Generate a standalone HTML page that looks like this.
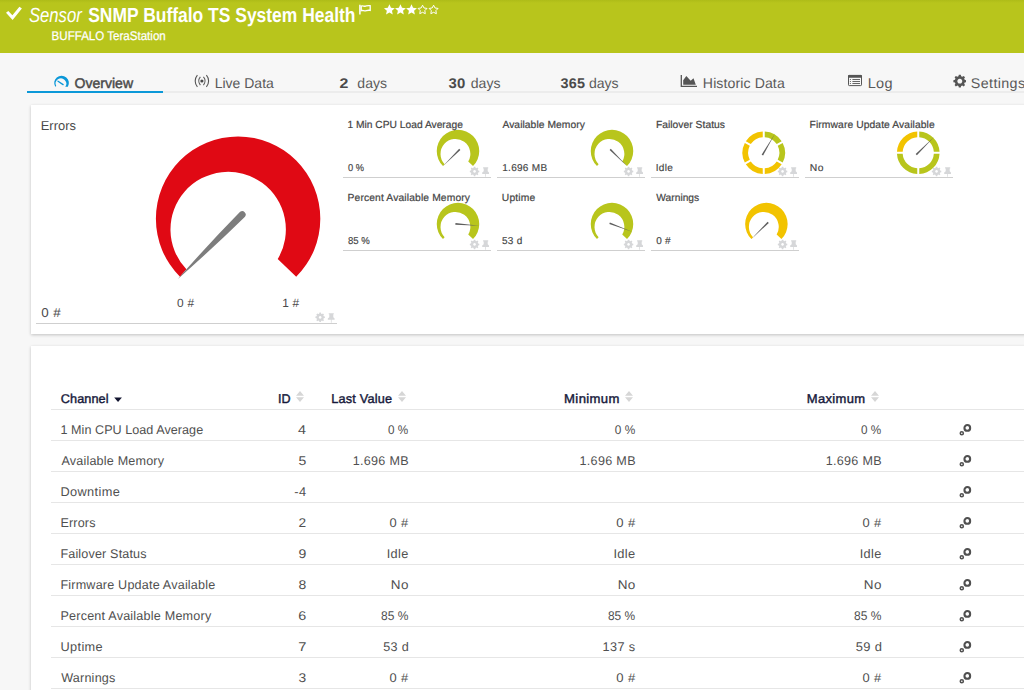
<!DOCTYPE html>
<html>
<head>
<meta charset="utf-8">
<title>SNMP Buffalo TS System Health</title>
<style>
*{box-sizing:border-box;margin:0;padding:0}
html,body{width:1024px;height:690px;overflow:hidden;background:#f7f7f7;font-family:"Liberation Sans",sans-serif;color:#555}
.abs{position:absolute}
.t{position:absolute;white-space:nowrap;line-height:1;transform-origin:0 50%;text-rendering:geometricPrecision}
#hdr{position:absolute;left:0;top:0;width:1024px;height:53px;background:linear-gradient(#aebc18,#b8c51c 3px,#b8c51c)}
.panel{position:absolute;background:#fff;box-shadow:0 1px 3px rgba(0,0,0,.22)}
.gline{position:absolute;height:1px;background:#cfcfcf}
</style>
</head>
<body>
<svg width="0" height="0" style="position:absolute">
<defs>
<path id="arc" d="M-58.1,58.1 A82.2,82.2 0 1 1 58.1,58.1 L39.6,40.4 A57.7,57.7 0 1 0 -51.7,50.6 Z"/>
<g id="gear"><path fill="#d6d7d9" d="M4.2,0h1.6l.3,1.3 1,.4 1.1-.7 1.1,1.1-.7,1.1.4,1 1.3.3v1.6l-1.3.3-.4,1 .7,1.1-1.1,1.1-1.1-.7-1,.4-.3,1.3H4.2l-.3-1.3-1-.4-1.1.7L.7,8.5l.7-1.1-.4-1L-.3,6.1V4.5L1,4.2l.4-1L.7,2.1 1.8,1l1.1.7 1-.4Z M5,3.75a1.55,1.55 0 1 0 .01,0Z" fill-rule="evenodd"/></g>
<g id="pin"><path fill="#d6d7d9" d="M1.1,0.2H6.2V1.3H5.7V4.2L7,5.4V6.8H4V9.7H3.3V6.8H0.2V5.4L1.7,4.2V1.3H1.1Z"/></g>
<g id="sort"><path fill="#d6d6d6" d="M0,4.7 4,0 8,4.7Z M0,6.3 8,6.3 4,11Z"/></g>
<g id="cog2" fill="none" stroke="#505050"><circle cx="8.3" cy="3.9" r="2.85" stroke-width="2.1"/><circle cx="2.8" cy="9.2" r="1.55" stroke-width="1.5"/></g>
</defs>
</svg>
<div id="hdr">
  <svg class="abs" style="left:0;top:0" width="30" height="26" viewBox="0 0 30 26"><path d="M6,12.7 8.3,10.9 12.4,15.2 19.4,6.8 21.9,8.5 12.6,20Z" fill="#fff"/></svg>
  <svg class="abs" style="left:0;top:0" width="460" height="30" viewBox="0 0 460 30"><path d="M359.9,4.8V14.6" stroke="#fff" stroke-width="1.5" fill="none"/><path d="M361.2,6c1.5-.8 3,.6 4.4,.2 1.4-.4 2.6-1 4.6-.5V10.4c-2-.5-3.2,.1-4.6,.5-1.4,.4-2.9-1-4.4-.2Z" fill="none" stroke="#fff" stroke-width="1.3"/><path d="M389.40,4.20 390.99,7.72 394.82,8.14 391.97,10.73 392.75,14.51 389.40,12.60 386.05,14.51 386.83,10.73 383.98,8.14 387.81,7.72Z" fill="#fff"/><path d="M400.45,4.20 402.04,7.72 405.87,8.14 403.02,10.73 403.80,14.51 400.45,12.60 397.10,14.51 397.88,10.73 395.03,8.14 398.86,7.72Z" fill="#fff"/><path d="M411.50,4.20 413.09,7.72 416.92,8.14 414.07,10.73 414.85,14.51 411.50,12.60 408.15,14.51 408.93,10.73 406.08,8.14 409.91,7.72Z" fill="#fff"/><path d="M422.55,5.20 423.96,7.96 427.02,8.45 424.83,10.64 425.31,13.70 422.55,12.30 419.79,13.70 420.27,10.64 418.08,8.45 421.14,7.96Z" fill="none" stroke="#fff" stroke-width="1" stroke-linejoin="round"/><path d="M433.60,5.20 435.01,7.96 438.07,8.45 435.88,10.64 436.36,13.70 433.60,12.30 430.84,13.70 431.32,10.64 429.13,8.45 432.19,7.96Z" fill="none" stroke="#fff" stroke-width="1" stroke-linejoin="round"/></svg>
</div>
<div class="abs" style="left:27px;top:91px;width:1000px;height:2px;background:#ececec"></div>
<div class="abs" style="left:27px;top:91px;width:136px;height:2px;background:#0b98d8"></div>
<svg class="abs" style="left:0;top:0" width="80" height="95" viewBox="0 0 80 95"><path d="M55.25,86.84 A7.35,7.35 0 1 1 67.85,86.84 L65.24,86.77 A5.3,5.3 0 1 0 56.23,86.06 Z" fill="#0b98d8"/><path d="M58,81.2 63.1,84.6" stroke="#0b98d8" stroke-width="1.3" stroke-linecap="round"/></svg>
<svg class="abs" style="left:0;top:0" width="230" height="95" viewBox="0 0 230 95"><path d="M197.4,75.05 A9.15,9.15 0 0 0 197.4,86.95M206.4,75.05 A9.15,9.15 0 0 1 206.4,86.95M200.35,76.95 A6.2,6.2 0 0 0 200.35,85.05M203.45000000000002,76.95 A6.2,6.2 0 0 1 203.45000000000002,85.05" fill="none" stroke="#555" stroke-width="1.1"/><circle cx="201.9" cy="81" r="1.6" fill="#4a4a4a"/></svg>
<svg class="abs" style="left:0;top:0" width="720" height="95" viewBox="0 0 720 95"><path d="M681.3,74.9V86.3H697" fill="none" stroke="#555" stroke-width="1.3"/><path d="M683.2,84.8V80.3L686.3,76.1 690.7,80.8 693.5,78.2 695.8,84.8Z" fill="#555"/></svg>
<svg class="abs" style="left:0;top:0" width="900" height="95" viewBox="0 0 900 95"><rect x="848.5" y="75.4" width="13" height="10.2" rx="0.8" fill="none" stroke="#555" stroke-width="1"/><rect x="848" y="74.9" width="14" height="2.8" rx="0.8" fill="#555"/><path d="M849.9,79.5h1M852.4,79.5h7.6M849.9,81.5h1M852.4,81.5h7.6M849.9,83.5h1M852.4,83.5h7.6" stroke="#555" stroke-width="0.9"/></svg>
<svg class="abs" style="left:952.6px;top:74.1px" width="13.6" height="13.6" viewBox="-0.6 -0.6 11.2 11.2"><path fill="#555" d="M4.2,0h1.6l.3,1.3 1,.4 1.1-.7 1.1,1.1-.7,1.1.4,1 1.3.3v1.6l-1.3.3-.4,1 .7,1.1-1.1,1.1-1.1-.7-1,.4-.3,1.3H4.2l-.3-1.3-1-.4-1.1.7L.7,8.5l.7-1.1-.4-1L-.3,6.1V4.5L1,4.2l.4-1L.7,2.1 1.8,1l1.1.7 1-.4Z M5,3.3a2,2 0 1 0 .01,0Z" fill-rule="evenodd"/></svg>
<div class="panel" style="left:31px;top:105px;width:1000px;height:229px"></div>
<svg class="abs" style="left:0;top:0" width="1024" height="345" viewBox="0 0 1024 345">
<use href="#arc" transform="translate(238.1 218.7) scale(1.0000)" fill="#e00914"/><path d="M177.6,279.2 Q208.0,244.6 240.1,211.8 A3.5,3.5 0 0 1 245.0,216.7 Q212.2,248.8 177.6,279.2Z" fill="#7d7d7d"/>
<use href="#arc" transform="translate(458 151.1) scale(0.2585)" fill="#b8c51c"/><path d="M442.8,166.3 L459.2,148.7 L460.4,149.9 Z" fill="#5e5e5e"/>
<use href="#arc" transform="translate(612 151.1) scale(0.2585)" fill="#b8c51c"/><path d="M627.2,166.3 L609.6,149.9 L610.8,148.7 Z" fill="#5e5e5e"/>
<path d="M764.75,131.47 A21.3,21.3 0 0 1 781.68,141.25 L776.73,144.10 A15.6,15.6 0 0 0 764.75,137.18 Z" fill="#b8c51c"/><path d="M782.68,142.98 A21.3,21.3 0 0 1 782.68,162.52 L777.73,159.67 A15.6,15.6 0 0 0 777.73,145.83 Z" fill="#b8c51c"/><path d="M781.68,164.25 A21.3,21.3 0 0 1 764.75,174.03 L764.75,168.32 A15.6,15.6 0 0 0 776.73,161.40 Z" fill="#f2c300"/><path d="M762.75,174.03 A21.3,21.3 0 0 1 745.82,164.25 L750.77,161.40 A15.6,15.6 0 0 0 762.75,168.32 Z" fill="#f2c300"/><path d="M744.82,162.52 A21.3,21.3 0 0 1 744.82,142.98 L749.77,145.83 A15.6,15.6 0 0 0 749.77,159.67 Z" fill="#f2c300"/><path d="M745.82,141.25 A21.3,21.3 0 0 1 762.75,131.47 L762.75,137.18 A15.6,15.6 0 0 0 750.77,144.10 Z" fill="#f2c300"/><path d="M775.1,133.5 L763.1,155.6 L761.6,154.7 Z" fill="#5e5e5e"/>
<path d="M919.25,131.47 A21.3,21.3 0 0 1 939.53,151.75 L933.82,151.75 A15.6,15.6 0 0 0 919.25,137.18 Z" fill="#b8c51c"/><path d="M939.53,153.75 A21.3,21.3 0 0 1 919.25,174.03 L919.25,168.32 A15.6,15.6 0 0 0 933.82,153.75 Z" fill="#b8c51c"/><path d="M917.25,174.03 A21.3,21.3 0 0 1 896.97,153.75 L902.68,153.75 A15.6,15.6 0 0 0 917.25,168.32 Z" fill="#b8c51c"/><path d="M896.97,151.75 A21.3,21.3 0 0 1 917.25,131.47 L917.25,137.18 A15.6,15.6 0 0 0 902.68,151.75 Z" fill="#f2c300"/><path d="M934.0,137.0 L916.9,155.3 L915.7,154.1 Z" fill="#5e5e5e"/>
<use href="#arc" transform="translate(458 224.1) scale(0.2585)" fill="#b8c51c"/><path d="M479.4,225.8 L455.3,224.7 L455.5,223.0 Z" fill="#5e5e5e"/>
<use href="#arc" transform="translate(612 224.1) scale(0.2585)" fill="#b8c51c"/><path d="M632.1,231.8 L609.3,224.0 L609.9,222.4 Z" fill="#5e5e5e"/>
<use href="#arc" transform="translate(766.4 224.1) scale(0.2585)" fill="#f2c300"/><path d="M751.2,239.3 L767.6,221.7 L768.8,222.9 Z" fill="#5e5e5e"/>
<use href="#gear" transform="translate(315.70 312.60) scale(.89)"/><use href="#pin" transform="translate(327.60 313.00)"/>
<use href="#gear" transform="translate(470.10 166.70) scale(.89)"/><use href="#pin" transform="translate(482.00 167.10)"/>
<use href="#gear" transform="translate(624.10 166.70) scale(.89)"/><use href="#pin" transform="translate(636.00 167.10)"/>
<use href="#gear" transform="translate(778.10 166.70) scale(.89)"/><use href="#pin" transform="translate(790.00 167.10)"/>
<use href="#gear" transform="translate(932.10 166.70) scale(.89)"/><use href="#pin" transform="translate(944.00 167.10)"/>
<use href="#gear" transform="translate(470.10 239.70) scale(.89)"/><use href="#pin" transform="translate(482.00 240.10)"/>
<use href="#gear" transform="translate(624.10 239.70) scale(.89)"/><use href="#pin" transform="translate(636.00 240.10)"/>
<use href="#gear" transform="translate(778.10 239.70) scale(.89)"/><use href="#pin" transform="translate(790.00 240.10)"/>
</svg>
<div class="gline" style="left:36px;top:323px;width:301px"></div>
<div class="gline" style="left:343px;top:177px;width:148px"></div>
<div class="gline" style="left:497px;top:177px;width:148px"></div>
<div class="gline" style="left:651px;top:177px;width:148px"></div>
<div class="gline" style="left:805px;top:177px;width:148px"></div>
<div class="gline" style="left:343px;top:250px;width:148px"></div>
<div class="gline" style="left:497px;top:250px;width:148px"></div>
<div class="gline" style="left:651px;top:250px;width:148px"></div>
<div class="panel" style="left:31px;top:346px;width:1000px;height:360px"></div>
<div class="abs" style="left:51px;top:409px;width:980px;height:1px;background:#e6e6e6"></div>
<svg class="abs" style="left:114px;top:397px" width="9" height="6" viewBox="0 0 9 6"><path d="M0.2,0.5H7.9L4.05,4.9Z" fill="#12142f"/></svg>
<svg class="abs" style="left:296px;top:391px" width="8" height="11" viewBox="0 0 8 11"><use href="#sort"/></svg>
<svg class="abs" style="left:398px;top:391px" width="8" height="11" viewBox="0 0 8 11"><use href="#sort"/></svg>
<svg class="abs" style="left:625px;top:391px" width="8" height="11" viewBox="0 0 8 11"><use href="#sort"/></svg>
<svg class="abs" style="left:871px;top:391px" width="8" height="11" viewBox="0 0 8 11"><use href="#sort"/></svg>
<div class="abs" style="left:51px;top:440px;width:980px;height:1px;background:#e6e6e6"></div>
<svg class="abs" style="left:959px;top:423.7px" width="13" height="13" viewBox="0 0 13 13"><use href="#cog2"/></svg>
<div class="abs" style="left:51px;top:471px;width:980px;height:1px;background:#e6e6e6"></div>
<svg class="abs" style="left:959px;top:454.7px" width="13" height="13" viewBox="0 0 13 13"><use href="#cog2"/></svg>
<div class="abs" style="left:51px;top:502px;width:980px;height:1px;background:#e6e6e6"></div>
<svg class="abs" style="left:959px;top:485.7px" width="13" height="13" viewBox="0 0 13 13"><use href="#cog2"/></svg>
<div class="abs" style="left:51px;top:533px;width:980px;height:1px;background:#e6e6e6"></div>
<svg class="abs" style="left:959px;top:516.7px" width="13" height="13" viewBox="0 0 13 13"><use href="#cog2"/></svg>
<div class="abs" style="left:51px;top:564px;width:980px;height:1px;background:#e6e6e6"></div>
<svg class="abs" style="left:959px;top:547.7px" width="13" height="13" viewBox="0 0 13 13"><use href="#cog2"/></svg>
<div class="abs" style="left:51px;top:595px;width:980px;height:1px;background:#e6e6e6"></div>
<svg class="abs" style="left:959px;top:578.7px" width="13" height="13" viewBox="0 0 13 13"><use href="#cog2"/></svg>
<div class="abs" style="left:51px;top:626px;width:980px;height:1px;background:#e6e6e6"></div>
<svg class="abs" style="left:959px;top:609.7px" width="13" height="13" viewBox="0 0 13 13"><use href="#cog2"/></svg>
<div class="abs" style="left:51px;top:657px;width:980px;height:1px;background:#e6e6e6"></div>
<svg class="abs" style="left:959px;top:640.7px" width="13" height="13" viewBox="0 0 13 13"><use href="#cog2"/></svg>
<div class="abs" style="left:51px;top:688px;width:980px;height:1px;background:#e6e6e6"></div>
<svg class="abs" style="left:959px;top:671.7px" width="13" height="13" viewBox="0 0 13 13"><use href="#cog2"/></svg>
<div class="t" id="h1" style="left:28px;top:5.65px;font-size:20.5px;letter-spacing:0.000px;font-style:italic;color:#fff;transform:translateX(0.90px) scaleX(0.8139)">Sensor</div>
<div class="t" id="h2" style="left:88px;top:5.65px;font-size:20.5px;letter-spacing:0.000px;font-weight:bold;color:#fff;transform:translateX(0.21px) scaleX(0.8512)">SNMP Buffalo TS System Health</div>
<div class="t" id="h3" style="left:51px;top:30.42px;font-size:12.5px;letter-spacing:0.000px;color:#fff;-webkit-text-stroke:0.25px #fff;transform:translateX(0.62px) scaleX(0.9246)">BUFFALO TeraStation</div>
<div class="t" id="t1" style="left:74px;top:76.06px;font-size:14.1px;letter-spacing:0.000px;color:#4a4a4a;-webkit-text-stroke:0.45px #4a4a4a;transform:translateX(0.53px) scaleX(0.9963)">Overview</div>
<div class="t" id="t2" style="left:214px;top:76.06px;font-size:14.1px;letter-spacing:0.000px;color:#5a5a5a;transform:translateX(0.68px) scaleX(0.9936)">Live Data</div>
<div class="t" id="t3" style="left:339px;top:76.06px;font-size:14.1px;letter-spacing:0.000px;font-weight:bold;color:#4a4a4a;transform:translateX(0.39px) scaleX(1.1283)">2</div>
<div class="t" id="t3b" style="left:357px;top:76.06px;font-size:14.1px;letter-spacing:0.000px;color:#5a5a5a;transform:translateX(0.34px) scaleX(0.9955)">days</div>
<div class="t" id="t4" style="left:448px;top:76.06px;font-size:14.1px;letter-spacing:0.350px;font-weight:bold;color:#4a4a4a;transform:translateX(0.44px) scaleX(1.0561)">30</div>
<div class="t" id="t4b" style="left:470px;top:76.06px;font-size:14.1px;letter-spacing:0.000px;color:#5a5a5a;transform:translateX(0.74px) scaleX(0.9980)">days</div>
<div class="t" id="t5" style="left:560px;top:76.06px;font-size:14.1px;letter-spacing:0.350px;font-weight:bold;color:#4a4a4a;transform:translateX(0.38px) scaleX(1.0217)">365</div>
<div class="t" id="t5b" style="left:588px;top:76.06px;font-size:14.1px;letter-spacing:0.000px;color:#5a5a5a;transform:translateX(0.91px) scaleX(0.9972)">days</div>
<div class="t" id="t6" style="left:702px;top:76.06px;font-size:14.1px;letter-spacing:0.101px;color:#5a5a5a;transform:translateX(0.85px) scaleX(1.0000)">Historic Data</div>
<div class="t" id="t7" style="left:867px;top:76.06px;font-size:14.1px;letter-spacing:0.350px;color:#5a5a5a;transform:translateX(0.65px) scaleX(1.0279)">Log</div>
<div class="t" id="t8" style="left:970px;top:76.06px;font-size:14.1px;letter-spacing:0.350px;color:#5a5a5a;transform:translateX(0.87px) scaleX(1.0158)">Settings</div>
<div class="t" id="g0" style="left:347px;top:121.28px;font-size:10.3px;letter-spacing:0.000px;color:#444;-webkit-text-stroke:0.2px #444;transform:translateX(0.39px) scaleX(0.9955)">1 Min CPU Load Average</div>
<div class="t" id="g1" style="left:502px;top:121.28px;font-size:10.3px;letter-spacing:0.059px;color:#444;-webkit-text-stroke:0.2px #444;transform:translateX(0.40px) scaleX(1.0000)">Available Memory</div>
<div class="t" id="g2" style="left:655px;top:121.28px;font-size:10.3px;letter-spacing:0.029px;color:#444;-webkit-text-stroke:0.2px #444;transform:translateX(0.88px) scaleX(1.0000)">Failover Status</div>
<div class="t" id="g3" style="left:809px;top:121.28px;font-size:10.3px;letter-spacing:0.093px;color:#444;-webkit-text-stroke:0.2px #444;transform:translateX(0.58px) scaleX(1.0000)">Firmware Update Available</div>
<div class="t" id="g4" style="left:347px;top:194.28px;font-size:10.3px;letter-spacing:0.133px;color:#444;-webkit-text-stroke:0.2px #444;transform:translateX(0.52px) scaleX(1.0000)">Percent Available Memory</div>
<div class="t" id="g5" style="left:501px;top:194.28px;font-size:10.3px;letter-spacing:0.149px;color:#444;-webkit-text-stroke:0.2px #444;transform:translateX(0.82px) scaleX(1.0000)">Uptime</div>
<div class="t" id="g6" style="left:656px;top:194.28px;font-size:10.3px;letter-spacing:0.000px;color:#444;-webkit-text-stroke:0.2px #444;transform:translateX(0.35px) scaleX(0.9921)">Warnings</div>
<div class="t" id="g7" style="left:347px;top:163.53px;font-size:10.0px;letter-spacing:0.000px;color:#444;-webkit-text-stroke:0.15px #444;transform:translateX(0.90px) scaleX(0.9319)">0 %</div>
<div class="t" id="g8" style="left:502px;top:163.53px;font-size:10.0px;letter-spacing:0.285px;color:#444;-webkit-text-stroke:0.15px #444;transform:translateX(0.25px) scaleX(1.0000)">1.696 MB</div>
<div class="t" id="g9" style="left:655px;top:163.53px;font-size:10.0px;letter-spacing:0.350px;color:#444;-webkit-text-stroke:0.15px #444;transform:translateX(0.64px) scaleX(1.0052)">Idle</div>
<div class="t" id="g10" style="left:809px;top:163.53px;font-size:10.0px;letter-spacing:0.350px;color:#444;-webkit-text-stroke:0.15px #444;transform:translateX(0.82px) scaleX(1.0354)">No</div>
<div class="t" id="g11" style="left:347px;top:236.53px;font-size:10.0px;letter-spacing:0.000px;color:#444;-webkit-text-stroke:0.15px #444;transform:translateX(0.88px) scaleX(0.9590)">85 %</div>
<div class="t" id="g12" style="left:501px;top:236.53px;font-size:10.0px;letter-spacing:0.333px;color:#444;-webkit-text-stroke:0.15px #444;transform:translateX(0.91px) scaleX(1.0000)">53 d</div>
<div class="t" id="g13" style="left:656px;top:236.53px;font-size:10.0px;letter-spacing:0.172px;color:#444;-webkit-text-stroke:0.15px #444;transform:translateX(0.22px) scaleX(1.0000)">0 #</div>
<div class="t" id="e1" style="left:40px;top:120.08px;font-size:12.9px;letter-spacing:0.048px;color:#4a4a4a;transform:translateX(0.68px) scaleX(1.0000)">Errors</div>
<div class="t" id="e2" style="left:41px;top:307.16px;font-size:12.8px;letter-spacing:0.350px;color:#4a4a4a;transform:translateX(0.26px) scaleX(1.0467)">0 #</div>
<div class="t" id="e3" style="left:177px;top:297.93px;font-size:11.9px;letter-spacing:0.300px;color:#4a4a4a;transform:translateX(0.05px) scaleX(1.0000)">0 #</div>
<div class="t" id="e4" style="left:282px;top:297.93px;font-size:11.9px;letter-spacing:0.085px;color:#4a4a4a;transform:translateX(0.32px) scaleX(1.0000)">1 #</div>
<div class="t" id="th1" style="left:60px;top:393.25px;font-size:12.7px;letter-spacing:0.065px;color:#15183a;-webkit-text-stroke:0.4px #15183a;transform:translateX(0.81px) scaleX(1.0000)">Channel</div>
<div class="t" id="th2" style="left:277px;top:393.25px;font-size:12.7px;letter-spacing:0.000px;color:#15183a;-webkit-text-stroke:0.4px #15183a;transform:translateX(0.92px) scaleX(0.9873)">ID</div>
<div class="t" id="th3" style="left:331px;top:393.25px;font-size:12.7px;letter-spacing:0.202px;color:#15183a;-webkit-text-stroke:0.4px #15183a;transform:translateX(0.26px) scaleX(1.0000)">Last Value</div>
<div class="t" id="th4" style="left:564px;top:393.25px;font-size:12.7px;letter-spacing:0.350px;color:#15183a;-webkit-text-stroke:0.4px #15183a;transform:translateX(0.09px) scaleX(1.0323)">Minimum</div>
<div class="t" id="th5" style="left:806px;top:393.25px;font-size:12.7px;letter-spacing:0.350px;color:#15183a;-webkit-text-stroke:0.4px #15183a;transform:translateX(0.73px) scaleX(1.0239)">Maximum</div>
<div class="t" id="r0a" style="left:60px;top:424.33px;font-size:12.6px;letter-spacing:0.038px;color:#505050;transform:translateX(0.47px) scaleX(1.0000)">1 Min CPU Load Average</div>
<div class="t" id="r0b" style="left:298px;top:424.33px;font-size:12.6px;letter-spacing:0.000px;color:#505050;transform:translateX(0.12px) scaleX(1.1390)">4</div>
<div class="t" id="r0c" style="left:388px;top:424.33px;font-size:12.6px;letter-spacing:0.000px;color:#505050;transform:translateX(0.09px) scaleX(0.9310)">0 %</div>
<div class="t" id="r0d" style="left:614px;top:424.33px;font-size:12.6px;letter-spacing:0.000px;color:#505050;transform:translateX(0.86px) scaleX(0.9396)">0 %</div>
<div class="t" id="r0e" style="left:861px;top:424.33px;font-size:12.6px;letter-spacing:0.000px;color:#505050;transform:translateX(0.09px) scaleX(0.9310)">0 %</div>
<div class="t" id="r1a" style="left:61px;top:455.33px;font-size:12.6px;letter-spacing:0.186px;color:#505050;transform:translateX(0.39px) scaleX(1.0000)">Available Memory</div>
<div class="t" id="r1b" style="left:298px;top:455.33px;font-size:12.6px;letter-spacing:0.000px;color:#505050;transform:translateX(0.46px) scaleX(1.1107)">5</div>
<div class="t" id="r1c" style="left:352px;top:455.33px;font-size:12.6px;letter-spacing:0.285px;color:#505050;transform:translateX(0.68px) scaleX(1.0000)">1.696 MB</div>
<div class="t" id="r1d" style="left:579px;top:455.33px;font-size:12.6px;letter-spacing:0.307px;color:#505050;transform:translateX(0.50px) scaleX(1.0000)">1.696 MB</div>
<div class="t" id="r1e" style="left:825px;top:455.33px;font-size:12.6px;letter-spacing:0.285px;color:#505050;transform:translateX(0.68px) scaleX(1.0000)">1.696 MB</div>
<div class="t" id="r2a" style="left:60px;top:486.33px;font-size:12.6px;letter-spacing:0.350px;color:#505050;transform:translateX(0.49px) scaleX(1.0144)">Downtime</div>
<div class="t" id="r2b" style="left:294px;top:486.33px;font-size:12.6px;letter-spacing:0.350px;color:#505050;transform:translateX(0.35px) scaleX(1.0203)">-4</div>
<div class="t" id="r3a" style="left:60px;top:517.33px;font-size:12.6px;letter-spacing:0.157px;color:#505050;transform:translateX(0.45px) scaleX(1.0000)">Errors</div>
<div class="t" id="r3b" style="left:298px;top:517.33px;font-size:12.6px;letter-spacing:0.000px;color:#505050;transform:translateX(0.60px) scaleX(1.0873)">2</div>
<div class="t" id="r3c" style="left:389px;top:517.33px;font-size:12.6px;letter-spacing:0.350px;color:#505050;transform:translateX(0.43px) scaleX(1.0243)">0 #</div>
<div class="t" id="r3d" style="left:616px;top:517.33px;font-size:12.6px;letter-spacing:0.350px;color:#505050;transform:translateX(0.30px) scaleX(1.0395)">0 #</div>
<div class="t" id="r3e" style="left:862px;top:517.33px;font-size:12.6px;letter-spacing:0.350px;color:#505050;transform:translateX(0.43px) scaleX(1.0243)">0 #</div>
<div class="t" id="r4a" style="left:60px;top:548.33px;font-size:12.6px;letter-spacing:0.153px;color:#505050;transform:translateX(0.41px) scaleX(1.0000)">Failover Status</div>
<div class="t" id="r4b" style="left:298px;top:548.33px;font-size:12.6px;letter-spacing:0.000px;color:#505050;transform:translateX(0.40px) scaleX(1.1123)">9</div>
<div class="t" id="r4c" style="left:386px;top:548.33px;font-size:12.6px;letter-spacing:0.350px;color:#505050;transform:translateX(0.64px) scaleX(1.0105)">Idle</div>
<div class="t" id="r4d" style="left:613px;top:548.33px;font-size:12.6px;letter-spacing:0.350px;color:#505050;transform:translateX(0.38px) scaleX(1.0220)">Idle</div>
<div class="t" id="r4e" style="left:859px;top:548.33px;font-size:12.6px;letter-spacing:0.350px;color:#505050;transform:translateX(0.64px) scaleX(1.0105)">Idle</div>
<div class="t" id="r5a" style="left:60px;top:579.33px;font-size:12.6px;letter-spacing:0.190px;color:#505050;transform:translateX(0.41px) scaleX(1.0000)">Firmware Update Available</div>
<div class="t" id="r5b" style="left:298px;top:579.33px;font-size:12.6px;letter-spacing:0.000px;color:#505050;transform:translateX(0.38px) scaleX(1.1100)">8</div>
<div class="t" id="r5c" style="left:390px;top:579.33px;font-size:12.6px;letter-spacing:0.350px;color:#505050;transform:translateX(0.84px) scaleX(1.0694)">No</div>
<div class="t" id="r5d" style="left:617px;top:579.33px;font-size:12.6px;letter-spacing:0.350px;color:#505050;transform:translateX(0.65px) scaleX(1.0739)">No</div>
<div class="t" id="r5e" style="left:863px;top:579.33px;font-size:12.6px;letter-spacing:0.350px;color:#505050;transform:translateX(0.84px) scaleX(1.0694)">No</div>
<div class="t" id="r6a" style="left:60px;top:610.33px;font-size:12.6px;letter-spacing:0.205px;color:#505050;transform:translateX(0.43px) scaleX(1.0000)">Percent Available Memory</div>
<div class="t" id="r6b" style="left:298px;top:610.33px;font-size:12.6px;letter-spacing:0.000px;color:#505050;transform:translateX(0.32px) scaleX(1.1382)">6</div>
<div class="t" id="r6c" style="left:381px;top:610.33px;font-size:12.6px;letter-spacing:0.000px;color:#505050;transform:translateX(0.07px) scaleX(0.9516)">85 %</div>
<div class="t" id="r6d" style="left:607px;top:610.33px;font-size:12.6px;letter-spacing:0.000px;color:#505050;transform:translateX(0.88px) scaleX(0.9466)">85 %</div>
<div class="t" id="r6e" style="left:854px;top:610.33px;font-size:12.6px;letter-spacing:0.000px;color:#505050;transform:translateX(0.07px) scaleX(0.9516)">85 %</div>
<div class="t" id="r7a" style="left:60px;top:641.33px;font-size:12.6px;letter-spacing:0.350px;color:#505050;transform:translateX(0.58px) scaleX(1.0104)">Uptime</div>
<div class="t" id="r7b" style="left:298px;top:641.33px;font-size:12.6px;letter-spacing:0.000px;color:#505050;transform:translateX(0.30px) scaleX(1.1640)">7</div>
<div class="t" id="r7c" style="left:383px;top:641.33px;font-size:12.6px;letter-spacing:0.325px;color:#505050;transform:translateX(0.23px) scaleX(1.0000)">53 d</div>
<div class="t" id="r7d" style="left:602px;top:641.33px;font-size:12.6px;letter-spacing:0.350px;color:#505050;transform:translateX(0.59px) scaleX(1.0067)">137 s</div>
<div class="t" id="r7e" style="left:855px;top:641.33px;font-size:12.6px;letter-spacing:0.350px;color:#505050;transform:translateX(0.64px) scaleX(1.0260)">59 d</div>
<div class="t" id="r8a" style="left:61px;top:672.33px;font-size:12.6px;letter-spacing:0.215px;color:#505050;transform:translateX(0.14px) scaleX(1.0000)">Warnings</div>
<div class="t" id="r8b" style="left:298px;top:672.33px;font-size:12.6px;letter-spacing:0.000px;color:#505050;transform:translateX(0.56px) scaleX(1.0984)">3</div>
<div class="t" id="r8c" style="left:389px;top:672.33px;font-size:12.6px;letter-spacing:0.350px;color:#505050;transform:translateX(0.43px) scaleX(1.0243)">0 #</div>
<div class="t" id="r8d" style="left:616px;top:672.33px;font-size:12.6px;letter-spacing:0.350px;color:#505050;transform:translateX(0.30px) scaleX(1.0395)">0 #</div>
<div class="t" id="r8e" style="left:862px;top:672.33px;font-size:12.6px;letter-spacing:0.350px;color:#505050;transform:translateX(0.43px) scaleX(1.0243)">0 #</div>
</body>
</html>
